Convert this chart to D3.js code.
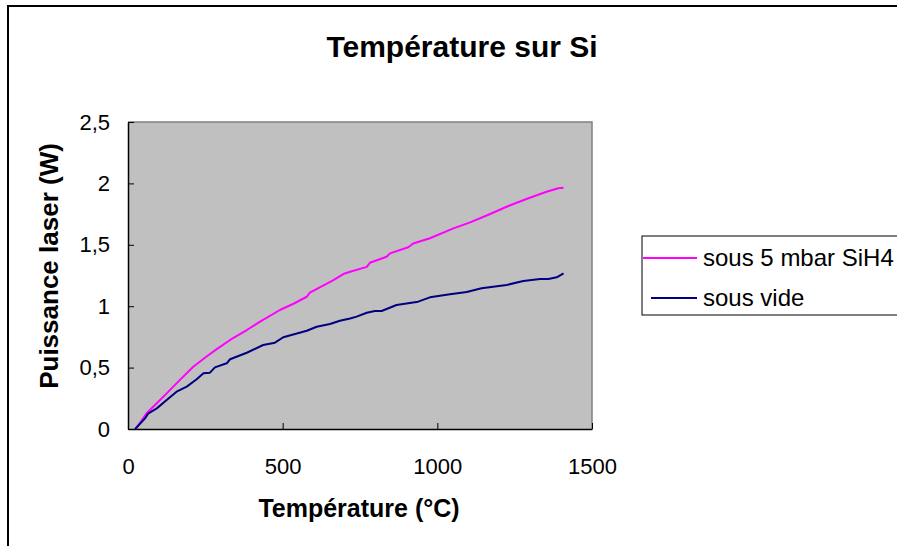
<!DOCTYPE html>
<html><head><meta charset="utf-8">
<script src="https://cdn.jsdelivr.net/npm/d3@7"></script>
<style>
html,body{margin:0;padding:0;background:#fff;}
svg{display:block;font-family:"Liberation Sans",Arial,sans-serif;}
</style></head>
<body>
<svg id="c" width="897" height="546"></svg>
<script>
const titleText = "Température sur Si";
const xTitle = "Température (°C)";
const yTitle = "Puissance laser (W)";
const seriesNames = ["sous 5 mbar SiH4", "sous vide"];
const xTicks = [0, 500, 1000, 1500];
const yTicks = [0, 0.5, 1, 1.5, 2, 2.5];

const tempSiH4 = [25,60,93,125,168,211,254,287,330,384,427,491,535,578,588,664,696,718,772,782,836,847,906,922,976,1052,1106,1165,1224,1288,1353,1391,1408];
const powerSiH4 = [0,0.128,0.21,0.29,0.40,0.507,0.59,0.65,0.725,0.806,0.874,0.969,1.02,1.077,1.11,1.213,1.262,1.28,1.32,1.354,1.403,1.43,1.48,1.51,1.553,1.634,1.683,1.745,1.81,1.873,1.932,1.96,1.965];

const tempVide = [23,55,66,93,125,157,190,222,244,265,281,319,330,384,437,475,502,578,610,653,685,718,739,772,798,820,868,938,976,1041,1095,1143,1224,1278,1332,1359,1386,1408];
const powerVide = [0,0.087,0.128,0.168,0.236,0.304,0.345,0.405,0.454,0.459,0.502,0.535,0.568,0.621,0.684,0.703,0.747,0.80,0.833,0.855,0.882,0.90,0.915,0.947,0.961,0.961,1.01,1.037,1.072,1.097,1.116,1.146,1.173,1.205,1.221,1.221,1.235,1.268];

const colors = ["#FF00FF", "#000080"];

const svg = d3.select("#c");
const W = 897, H = 546;
const L = 128, R = 592, T = 122, B = 429;

// outer chart border
svg.append("rect").attr("x", 8).attr("y", 6).attr("width", W + 20).attr("height", H + 20)
  .attr("fill", "#fff").attr("stroke", "#000").attr("stroke-width", 2);

const x = d3.scaleLinear().domain([0, 1500]).range([L, R]);
const y = d3.scaleLinear().domain([0, 2.5]).range([B, T]);

// plot area
svg.append("rect").attr("x", L).attr("y", T).attr("width", R - L).attr("height", B - T)
  .attr("fill", "#C0C0C0");
svg.append("path").attr("d", `M${L},${T}H${R}V${B}`).attr("fill", "none")
  .attr("stroke", "#808080").attr("stroke-width", 1.5);

const fmt = d => String(d).replace(".", ",");

const yAxis = svg.append("g").attr("transform", `translate(${L},0)`)
  .call(d3.axisLeft(y).tickValues(yTicks).tickFormat(fmt).tickSizeInner(-6).tickSizeOuter(0).tickPadding(18));
const xAxis = svg.append("g").attr("transform", `translate(0,${B})`)
  .call(d3.axisBottom(x).tickValues(xTicks).tickFormat(fmt).tickSizeInner(-6).tickSizeOuter(0).tickPadding(29));
[yAxis, xAxis].forEach(g => {
  g.selectAll(".domain").attr("stroke", "#000").attr("stroke-width", 1.5);
  g.selectAll(".tick line").attr("stroke", "#000").attr("stroke-width", 1);
  g.selectAll("text").attr("font-size", 22).attr("fill", "#000")
    .attr("font-family", "Liberation Sans, Arial, sans-serif");
});

// series
const line = d3.line().x(d => x(d[0])).y(d => y(d[1]));
const s1 = tempSiH4.map((t, i) => [t, powerSiH4[i]]);
const s2 = tempVide.map((t, i) => [t, powerVide[i]]);
[s1, s2].forEach((s, i) => {
  svg.append("path").datum(s).attr("d", line).attr("fill", "none")
    .attr("stroke", colors[i]).attr("stroke-width", 2).attr("stroke-linejoin", "round");
});

// titles
svg.append("text").attr("x", 462).attr("y", 57).attr("text-anchor", "middle")
  .attr("font-size", 30).attr("font-weight", "bold").text(titleText);
svg.append("text").attr("x", 359).attr("y", 517).attr("text-anchor", "middle")
  .attr("font-size", 25).attr("font-weight", "bold").text(xTitle);
svg.append("text").attr("transform", "translate(58,266) rotate(-90)").attr("text-anchor", "middle")
  .attr("font-size", 26).attr("font-weight", "bold").text(yTitle);

// legend
const lg = svg.append("g");
lg.append("rect").attr("x", 642).attr("y", 236).attr("width", 300).attr("height", 79)
  .attr("fill", "#fff").attr("stroke", "#000").attr("stroke-width", 1);
const legY = [258, 298];
seriesNames.forEach((n, i) => {
  lg.append("line").attr("x1", i === 0 ? 643 : 651).attr("x2", 697).attr("y1", legY[i]).attr("y2", legY[i])
    .attr("stroke", colors[i]).attr("stroke-width", 2);
  lg.append("text").attr("x", 703).attr("y", legY[i] + 8).attr("font-size", 24).text(n);
});
</script>
</body></html>
